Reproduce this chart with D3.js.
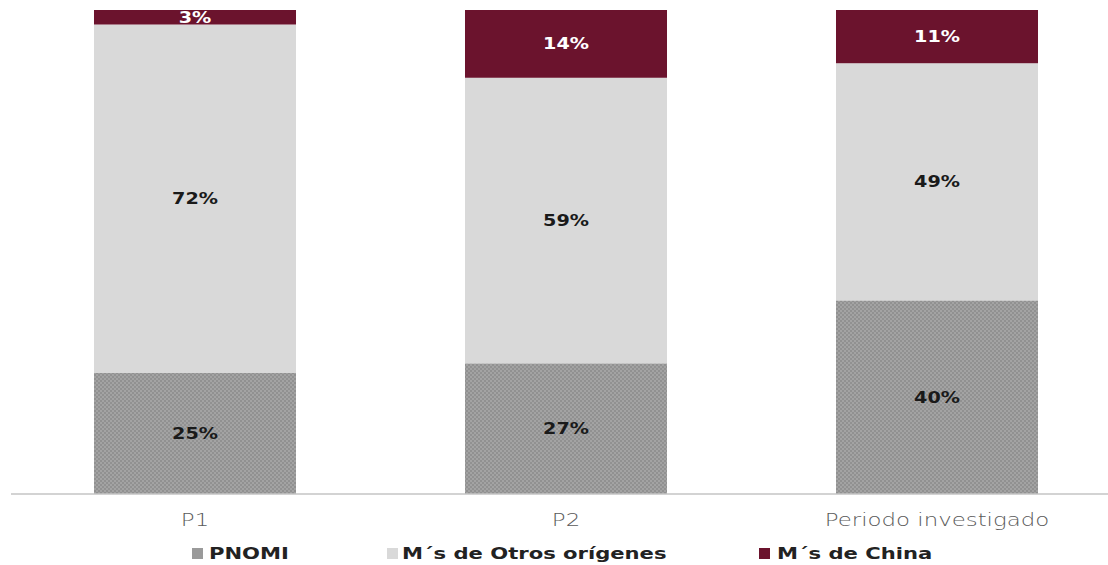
<!DOCTYPE html>
<html><head><meta charset="utf-8">
<script src="https://cdn.jsdelivr.net/npm/d3@7"></script>
<style>body{margin:0;background:#fff;} svg{display:block;}</style>
</head><body>
<svg id="c" width="1108" height="565"></svg>
<script>
const categories = ["P1", "P2", "Periodo investigado"];
const seriesNames = ["PNOMI", "M´s de Otros orígenes", "M´s de China"];
const pnomi = [25, 27, 40];
const otros = [72, 59, 49];
const china = [3, 14, 11];

const svg = d3.select("#c");
const defs = svg.append("defs");
const pat = defs.append("pattern").attr("id","chk").attr("patternUnits","userSpaceOnUse").attr("width",4).attr("height",4);
pat.append("rect").attr("width",4).attr("height",4).attr("fill","#a3a3a3");
pat.append("rect").attr("width",2).attr("height",2).attr("fill","#919191");
pat.append("rect").attr("x",2).attr("y",2).attr("width",2).attr("height",2).attr("fill","#919191");

const colors = ["url(#chk)", "#d9d9d9", "#6b132d"];
const legendColors = ["#9a9a9a", "#d9d9d9", "#6b132d"];
const textColors = ["#1a1a1a", "#1a1a1a", "#ffffff"];

const p = 0.4555;
const x = d3.scaleBand().domain(categories).range([9.5, 1122.5]).paddingInner(p).paddingOuter(p/2);
const y = d3.scaleLinear().domain([0, 100]).range([494, 10]);

const rows = categories.map((c,i)=>({cat:c, s0:pnomi[i], s1:otros[i], s2:china[i]}));
const stack = d3.stack().keys(["s0","s1","s2"])(rows);

const font = "'DejaVu Sans', sans-serif";

stack.forEach((layer, li) => {
  const g = svg.append("g");
  g.selectAll("rect").data(layer).join("rect")
    .attr("x", d => x(d.data.cat))
    .attr("width", x.bandwidth())
    .attr("y", d => y(d[1]))
    .attr("height", d => y(d[0]) - y(d[1]))
    .attr("fill", colors[li]);
  const lab = g.selectAll("g.lab").data(layer).join("g").attr("class","lab")
    .attr("transform", d => `translate(${x(d.data.cat) + x.bandwidth()/2},${(y(d[0]) + y(d[1]))/2}) scale(1.28,1)`);
  lab.append("text")
    .attr("dy", "0.36em")
    .attr("text-anchor", "middle")
    .attr("font-family", font)
    .attr("font-weight", 700)
    .attr("font-size", 15)
    .attr("fill", textColors[li])
    .text(d => (d[1]-d[0]) + "%");
});

// axis
svg.append("line").attr("x1", 11).attr("x2", 1108).attr("y1", 494).attr("y2", 494).attr("stroke", "#c4c4c4").attr("stroke-width", 1.5);
const axis = d3.axisBottom(x).tickSize(0).tickPadding(19);
const ax = svg.append("g").attr("transform", "translate(0,494)").call(axis);
ax.select(".domain").remove();
ax.selectAll("text").attr("font-family", font).attr("font-size", 18).attr("fill", "#5a5a5a").attr("font-weight", 200)
  .attr("transform", "scale(1.27,1)");

// legend
const legendX = [192, 387, 759];
const legendTX = [209, 402, 777];
const lg = svg.append("g");
seriesNames.forEach((n, i) => {
  lg.append("rect").attr("x", legendX[i]).attr("y", 548).attr("width", 11).attr("height", 11).attr("fill", legendColors[i]);
  lg.append("g").attr("transform", `translate(${legendTX[i]},553) scale(1.32,1)`)
    .append("text").attr("dy", "0.36em")
    .attr("font-family", font).attr("font-weight", 700).attr("font-size", 16).attr("fill", "#222222").text(n);
});
</script>
</body></html>
